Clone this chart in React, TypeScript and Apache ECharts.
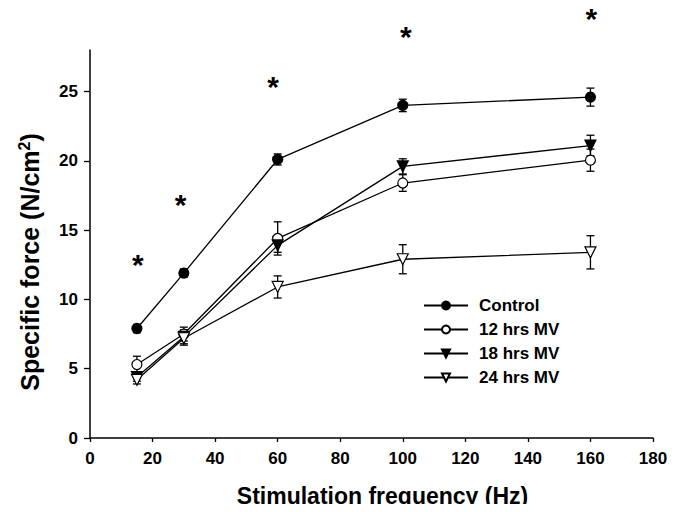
import React, { useEffect, useRef } from "react";
import * as echarts from "echarts";

const frequencies = [15, 30, 60, 100, 160];
const controlMean = [7.9, 11.9, 20.1, 24.0, 24.6];
const controlErr = [0.3, 0.3, 0.4, 0.45, 0.65];
const mv12Mean = [5.3, 7.5, 14.4, 18.4, 20.05];
const mv12Err = [0.6, 0.5, 1.2, 0.6, 0.8];
const mv18Mean = [4.4, 7.3, 13.9, 19.6, 21.1];
const mv18Err = [0.3, 0.5, 0.5, 0.55, 0.75];
const mv24Mean = [4.2, 7.2, 10.9, 12.9, 13.4];
const mv24Err = [0.3, 0.5, 0.8, 1.05, 1.2];
const starX = [15.3, 29, 58.5, 101, 160.3];
const starY = [12.75, 17.05, 25.6, 29.2, 30.5];
const yTicks = [0, 5, 10, 15, 20, 25];

const FONT = "'Liberation Sans', Arial, sans-serif";

function pairs(xs: number[], ys: number[]) {
  return xs.map((x, i) => [x, ys[i]]);
}
function errData(xs: number[], m: number[], e: number[]) {
  return xs.map((x, i) => [x, m[i] - e[i], m[i] + e[i]]);
}

function errorSeries(name: string, xs: number[], m: number[], e: number[]) {
  return {
    type: "custom",
    name: name + "_err",
    z: 1,
    clip: false,
    data: errData(xs, m, e),
    renderItem: (params: any, api: any) => {
      const x = api.value(0);
      const lo = api.coord([x, api.value(1)]);
      const hi = api.coord([x, api.value(2)]);
      const w = 4;
      const style = { stroke: "#000", lineWidth: 1.3 };
      return {
        type: "group",
        children: [
          { type: "line", shape: { x1: lo[0], y1: lo[1], x2: hi[0], y2: hi[1] }, style },
          { type: "line", shape: { x1: lo[0] - w, y1: lo[1], x2: lo[0] + w, y2: lo[1] }, style },
          { type: "line", shape: { x1: hi[0] - w, y1: hi[1], x2: hi[0] + w, y2: hi[1] }, style },
        ],
      };
    },
    tooltip: { show: false },
  };
}

function lineSeries(name: string, ys: number[], symbol: string, filled: boolean, rotate: number, size: number) {
  return {
    type: "line",
    name,
    z: 3,
    data: pairs(frequencies, ys),
    symbol,
    symbolSize: size,
    symbolRotate: rotate,
    showAllSymbol: true,
    lineStyle: { color: "#000", width: 1.3 },
    itemStyle: { color: filled ? "#000" : "#fff", borderColor: "#000", borderWidth: 1.2, opacity: 1 },
  };
}

export default function App() {
  const ref = useRef<HTMLDivElement>(null);
  useEffect(() => {
    if (!ref.current) return;
    const chart = echarts.init(ref.current, undefined, { renderer: "svg" });
    chart.setOption({
      animation: false,
      backgroundColor: "#fff",
      grid: { left: 90, right: 22, top: 50, bottom: 72, containLabel: false },
      legend: {
        orient: "vertical",
        left: 418,
        top: 292,
        itemWidth: 44,
        itemHeight: 10,
        itemGap: 7,
        selectedMode: false,
        textStyle: { fontFamily: FONT, fontWeight: "bold", fontSize: 17, color: "#000", padding: [0, 0, 0, 6] },
        data: ["Control", "12 hrs MV", "18 hrs MV", "24 hrs MV"],
      },
      xAxis: {
        type: "value",
        min: 0,
        max: 180,
        interval: 20,
        name: "Stimulation frequency (Hz)",
        nameLocation: "middle",
        nameGap: 46,
        nameTextStyle: { fontFamily: FONT, fontWeight: "bold", fontSize: 23, color: "#000", padding: [0, 0, 0, 22] },
        axisLine: { show: true, lineStyle: { color: "#000", width: 1.5 } },
        axisTick: { show: true, length: 4, lineStyle: { color: "#000", width: 1.3 } },
        axisLabel: { fontFamily: FONT, fontWeight: "bold", fontSize: 17, color: "#000", margin: 12 },
        splitLine: { show: false },
      },
      yAxis: {
        type: "value",
        min: 0,
        max: 28,
        name: "Specific force (N/cm{sup|2})",
        nameLocation: "middle",
        nameGap: 46,
        nameRotate: 90,
        nameTextStyle: {
          fontFamily: FONT,
          fontWeight: "bold",
          fontSize: 25,
          color: "#000",
          padding: [0, 36, 0, 0],
          rich: {
            sup: { fontFamily: FONT, fontWeight: "bold", fontSize: 16, color: "#000", verticalAlign: "bottom", padding: [0, 0, 12, 0] },
          },
        },
        axisLine: { show: true, lineStyle: { color: "#000", width: 1.5 } },
        axisTick: { show: true, length: 6, customValues: yTicks, lineStyle: { color: "#000", width: 1.3 } },
        axisLabel: { fontFamily: FONT, fontWeight: "bold", fontSize: 17, color: "#000", margin: 12, customValues: yTicks },
        splitLine: { show: false },
      },
      series: [
        errorSeries("Control", frequencies, controlMean, controlErr),
        errorSeries("12 hrs MV", frequencies, mv12Mean, mv12Err),
        errorSeries("18 hrs MV", frequencies, mv18Mean, mv18Err),
        errorSeries("24 hrs MV", frequencies, mv24Mean, mv24Err),
        lineSeries("Control", controlMean, "circle", true, 0, 10),
        lineSeries("12 hrs MV", mv12Mean, "circle", false, 0, 10),
        lineSeries("18 hrs MV", mv18Mean, "triangle", true, 180, 11),
        lineSeries("24 hrs MV", mv24Mean, "triangle", false, 180, 11),
        {
          type: "scatter",
          name: "sig",
          clip: false,
          z: 4,
          data: pairs(starX, starY),
          symbol: "circle",
          symbolSize: 2,
          itemStyle: { color: "rgba(0,0,0,0)" },
          label: {
            show: true,
            position: "inside",
            formatter: "*",
            offset: [0, 3],
            fontFamily: FONT,
            fontWeight: "bold",
            fontSize: 30,
            color: "#000",
            opacity: 1,
          },
        },
      ],
    });
    return () => chart.dispose();
  }, []);
  return <div ref={ref} style={{ width: 675, height: 512, margin: -8 }} />;
}
